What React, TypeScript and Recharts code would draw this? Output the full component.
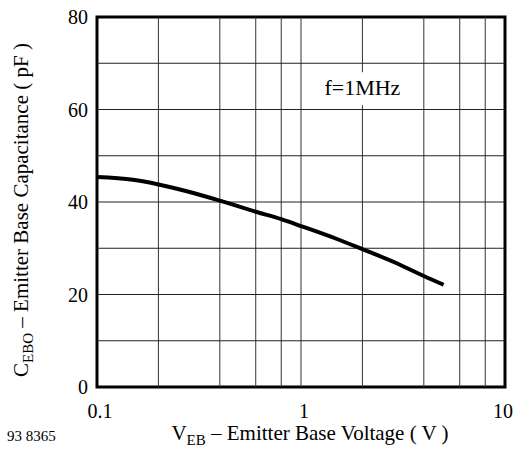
import React from "react";
import {
  LineChart,
  Line,
  XAxis,
  YAxis,
  ReferenceLine,
  ReferenceArea,
  ReferenceDot,
} from "recharts";

// emitter base voltage (V) vs capacitance (pF)
const voltage = [0.1, 0.15, 0.2, 0.3, 0.4, 0.6, 0.8, 1, 1.5, 2, 3, 4, 5];
const capacitance = [45.4, 44.8, 43.8, 41.9, 40.3, 37.9, 36.3, 34.8, 32.0, 29.8, 26.6, 24, 22.1];

const xTicks = [0.1, 1, 10];
const yTicks = [0, 20, 40, 60, 80];
const xGrid = [0.2, 0.4, 0.6, 0.8, 1, 2, 4, 6, 8];
const yGrid = [10, 20, 30, 40, 50, 60, 70];

const data = voltage.map((v, i) => ({ v, c: capacitance[i] }));

const FONT = "Liberation Serif";
const serif = { fontFamily: FONT };

const XTick = ({ x, y, payload, index }) => (
  <text
    x={index === xTicks.length - 1 ? x - 2 : x + 3}
    y={y + 23}
    textAnchor="middle"
    fontFamily={FONT}
    style={serif}
    fontSize={20}
    fill="#000"
  >
    {payload.value}
  </text>
);

const YTick = ({ x, y, payload }) => (
  <text x={x} y={y + 7} textAnchor="end" fontFamily={FONT} style={serif} fontSize={20} fill="#000">
    {payload.value}
  </text>
);

const YLabel = () => (
  <text
    transform="translate(28, 210) rotate(-90)"
    textAnchor="middle"
    fontFamily={FONT}
    style={serif}
    fontSize={21}
    fill="#000"
  >
    C<tspan fontSize={15} dy={5}>EBO</tspan>
    <tspan dy={-5}> – Emitter Base Capacitance ( pF )</tspan>
  </text>
);

const XLabel = () => (
  <g>
    <text x={310} y={440} textAnchor="middle" fontFamily={FONT} style={serif} fontSize={21} fill="#000">
      V<tspan fontSize={15} dy={5}>EB</tspan>
      <tspan dy={-5}> – Emitter Base Voltage ( V )</tspan>
    </text>
    <text x={7} y={441} fontFamily={FONT} style={serif} fontSize={15} fill="#000">
      93 8365
    </text>
  </g>
);

const FreqLabel = ({ cx, cy }) => (
  <g>
    <rect x={cx - 43} y={cy - 16} width={86} height={33} fill="#fff" />
    <text x={cx} y={cy + 7} textAnchor="middle" fontFamily={FONT} style={serif} fontSize={22} fill="#000">
      f=1MHz
    </text>
  </g>
);

export default function App() {
  return (
    <div style={{ position: "absolute", left: 0, top: 0, background: "#fff" }}>
      <style>{`.chart text, .chart tspan { font-family: "Liberation Serif", "Times New Roman", serif !important; }`}</style>
      <div className="chart">
        <LineChart
          width={516}
          height={462}
          data={data}
          margin={{ top: 17, right: 11, left: 0, bottom: 0 }}
        >
          <XAxis
            dataKey="v"
            type="number"
            scale="log"
            domain={[0.1, 10]}
            ticks={xTicks}
            tick={XTick}
            tickLine={false}
            axisLine={false}
            height={75}
            allowDataOverflow
            label={<XLabel />}
          />
          <YAxis
            type="number"
            domain={[0, 80]}
            ticks={yTicks}
            tick={YTick}
            tickLine={false}
            axisLine={false}
            tickMargin={3}
            width={97}
            label={<YLabel />}
          />
          {xGrid.map((g) => (
            <ReferenceLine key={`x${g}`} x={g} stroke="#333" strokeWidth={1} />
          ))}
          {yGrid.map((g) => (
            <ReferenceLine key={`y${g}`} y={g} stroke="#222" strokeWidth={1} />
          ))}
          <ReferenceDot x={2} y={64.6} r={0} shape={FreqLabel} />
          <ReferenceArea
            x1={0.1}
            x2={10}
            y1={0}
            y2={80}
            fill="none"
            stroke="#000"
            strokeWidth={3}
            fillOpacity={0}
          />
          <Line
            dataKey="c"
            type="monotone"
            stroke="#000"
            strokeWidth={4}
            dot={false}
            isAnimationActive={false}
          />
        </LineChart>
      </div>
    </div>
  );
}
